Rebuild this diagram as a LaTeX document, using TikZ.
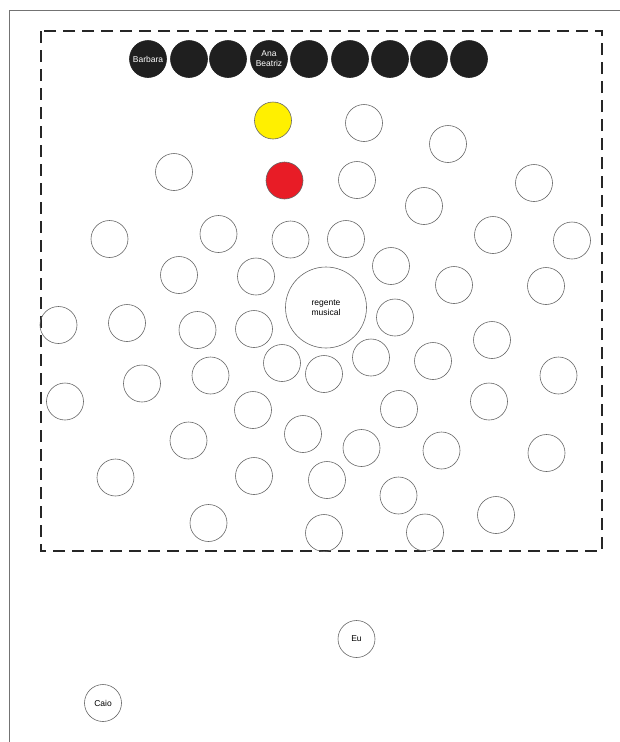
\documentclass[tikz,border=0pt]{standalone}
\usepackage{fontspec}
\setmainfont{Liberation Sans}
\definecolor{seatred}{RGB}{232,28,38}
\definecolor{seatyellow}{RGB}{255,240,0}
\begin{document}
\begin{tikzpicture}[x=1pt,y=-1pt,
  seat/.style={circle,draw=black!60,line width=0.6pt,minimum size=37pt,inner sep=0pt,font=\fontsize{8.5}{10}\selectfont,align=center},
  dark/.style={seat,fill=black!88,draw=black!88,text=white},
  yel/.style={seat,fill=seatyellow,draw=black!60},
  redc/.style={seat,fill=seatred,draw=black!60},
  conductor/.style={seat,minimum size=81pt},
  area/.style={draw=black!85,line width=1.8pt,dash pattern=on 12pt off 7pt},
  page/.style={draw=black!55,line width=0.8pt}]
\useasboundingbox (0,0) rectangle (620,742);
\coordinate (pTL) at (9.5,10.5);
\coordinate (pTR) at (620,10.5);
\coordinate (pBL) at (9.5,742);
\draw[page] (pTR) -- (pTL) -- (pBL);
\coordinate (aTL) at (41,31);
\coordinate (aBR) at (602,551);
\draw[area] (aTL) rectangle (aBR);
% front row
\node[dark] (b1) at (148,59) {Barbara};
\node[dark] (b2) at (189,59) {};
\node[dark] (b3) at (228,59) {};
\node[dark] (b4) at (269,59) {Ana\\Beatriz};
\node[dark] (b5) at (309,59) {};
\node[dark] (b6) at (350,59) {};
\node[dark] (b7) at (390,59) {};
\node[dark] (b8) at (429,59) {};
\node[dark] (b9) at (469,59) {};
\node[yel] (y1) at (273,120.5) {};
\node[redc] (r1) at (284.5,180.5) {};
% open seats
\node[seat] (s1) at (364,123) {};
\node[seat] (s2) at (448,144) {};
\node[seat] (s3) at (174,172) {};
\node[seat] (s4) at (357,180) {};
\node[seat] (s5) at (424,206) {};
\node[seat] (s6) at (534,183) {};
\node[seat] (s7) at (109.5,239) {};
\node[seat] (s8) at (218.5,234) {};
\node[seat] (s9) at (290.5,239.5) {};
\node[seat] (s10) at (346,239) {};
\node[seat] (s11) at (493,235) {};
\node[seat] (s12) at (572,240.5) {};
\node[seat] (s13) at (179,275) {};
\node[seat] (s14) at (256,276.5) {};
\node[seat] (s15) at (391,266) {};
\node[seat] (s16) at (454,285) {};
\node[seat] (s17) at (546,286) {};
\node[conductor] (reg) at (326,307.5) {regente\\musical};
\node[seat] (s18) at (58.5,325) {};
\node[seat] (s19) at (127,323) {};
\node[seat] (s20) at (197.5,330) {};
\node[seat] (s21) at (254,329) {};
\node[seat] (s22) at (395,317.5) {};
\node[seat] (s23) at (492,340) {};
\node[seat] (s24) at (282,363) {};
\node[seat] (s25) at (324,374) {};
\node[seat] (s26) at (371,357.5) {};
\node[seat] (s27) at (433,361) {};
\node[seat] (s28) at (210.5,375.5) {};
\node[seat] (s29) at (142,383.5) {};
\node[seat] (s30) at (65,401.5) {};
\node[seat] (s31) at (558.5,375.5) {};
\node[seat] (s32) at (253,410) {};
\node[seat] (s33) at (399,409) {};
\node[seat] (s34) at (489,401.5) {};
\node[seat] (s35) at (188.5,440.5) {};
\node[seat] (s36) at (303,434) {};
\node[seat] (s37) at (361.5,448) {};
\node[seat] (s38) at (441.5,450.5) {};
\node[seat] (s39) at (546.5,453) {};
\node[seat] (s40) at (115.5,477.5) {};
\node[seat] (s41) at (254,476) {};
\node[seat] (s42) at (327,480) {};
\node[seat] (s43) at (398.5,495.5) {};
\node[seat] (s44) at (208.5,523) {};
\node[seat] (s45) at (324,533) {};
\node[seat] (s46) at (425,532.5) {};
\node[seat] (s47) at (496,515) {};
% outside
\node[seat] (eu) at (356.5,639) {Eu};
\node[seat] (caio) at (103,703) {Caio};
\end{tikzpicture}
\end{document}
